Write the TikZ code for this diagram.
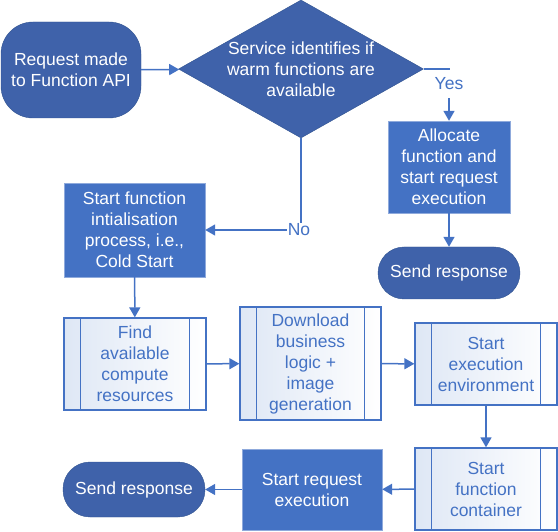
\documentclass[tikz,border=0pt]{standalone}
\usepackage{fontspec}
\setmainfont{Liberation Sans}
\usetikzlibrary{arrows.meta, positioning, shapes.geometric}

\definecolor{flowblue}{RGB}{68,114,196}
\definecolor{flowdark}{RGB}{63,98,170}
\definecolor{flowedge}{RGB}{47,82,143}
\definecolor{flowlight}{RGB}{143,170,220}
\definecolor{flowpale}{RGB}{222,231,245}

\begin{document}
\begin{tikzpicture} [x=1pt, y=-1pt,
		% define styles
		terminalstyle/.style={
			% The shape:
			rectangle,
			rounded corners=26pt,
			% The size:
			minimum width=142pt,
			minimum height=52pt,
			inner sep=0pt,
			% The border and filling:
			draw=flowedge,
			fill=flowdark,
			% Font
			text=white,
			align=center,
			font=\fontsize{17.5}{21}\selectfont
		},
		decisionstyle/.style={
			% The shape:
			diamond,
			% The size:
			minimum width=245pt,
			minimum height=138pt,
			inner sep=-40pt,
			% The border and filling:
			draw=flowedge,
			fill=flowdark,
			% Font
			text=white,
			align=center,
			font=\fontsize{17.5}{21}\selectfont
		},
		actionstyle/.style={
			% The shape:
			rectangle,
			inner sep=0pt,
			% The border and filling:
			draw=flowlight,
			fill=flowblue,
			% Font
			text=white,
			align=center,
			font=\fontsize{17.5}{21}\selectfont
		},
		processstyle/.style={
			% The shape:
			rectangle,
			minimum width=142pt,
			inner sep=0pt,
			% The border:
			draw=flowblue,
			line width=1.3pt,
			% The filling:
			left color=flowpale, % pale blue on the left...
			right color=white, % and white on the right
			% Font
			text=flowblue,
			align=center,
			font=\fontsize{17.5}{21}\selectfont
		},
		procline/.style={
			flowblue,
			line width=1.3pt
		},
		arrow/.style={
			-{Triangle[length=10pt, width=11pt]},
			% Thickness
			line width=1.5pt,
			% Color
			flowblue
		},
		branchlabel/.style={
			fill=white,
			inner sep=1pt,
			text=flowblue,
			font=\fontsize{17.5}{21}\selectfont
		}]
		% end of style definition

		\useasboundingbox (0,0) rectangle (558,532);

		% draw nodes
		\node (iRequest) [terminalstyle, rounded corners=32pt, minimum width=140pt, minimum height=96pt] at (71,70) {Request made\\to Function API};
		\node (iDecision) [decisionstyle] at (301,69) {Service identifies if\\warm functions are\\available};

		\node (iAllocate) [actionstyle, minimum width=122pt, minimum height=92pt] at (449,167) {Allocate\\function and\\start request\\execution};
		\node (iSendTop) [terminalstyle] at (449,273) {Send response};

		\node (iColdStart) [actionstyle, minimum width=141pt, minimum height=94pt] at (134.5,230) {Start function\\intialisation\\process, i.e.,\\Cold Start};

		\node (iFind) [processstyle, minimum height=92pt] at (135,364) {Find\\available\\compute\\resources};
		\node (iDownload) [processstyle, minimum width=141pt, minimum height=113pt] at (310.5,363.5) {Download\\business\\logic +\\image\\generation};
		\node (iExecEnv) [processstyle, minimum height=82pt] at (486,364) {Start\\execution\\environment};
		\node (iContainer) [processstyle, minimum height=82pt] at (486,489) {Start\\function\\container};

		\node (iStartReq) [actionstyle, minimum width=140pt, minimum height=81pt] at (312,489.5) {Start request\\execution};
		\node (iSendBottom) [terminalstyle, minimum height=55pt, rounded corners=27pt] at (134,489.5) {Send response};

		% side bars of the process boxes
		\foreach \n in {iFind, iDownload, iExecEnv, iContainer} {
			\draw [procline] ([xshift=17pt]\n.north west) -- ([xshift=17pt]\n.south west);
			\draw [procline] ([xshift=-17pt]\n.north east) -- ([xshift=-17pt]\n.south east);
		}

		% connect nodes
		\draw [arrow] (iRequest) -- (iDecision);
		\draw [arrow] (iDecision.east) -| node [branchlabel, pos=0.64, minimum height=28pt] {Yes} (iAllocate.north);
		\draw [arrow] (iAllocate) -- (iSendTop);
		\draw [arrow] (iDecision.south) |- node [branchlabel, pos=0.5, xshift=-2pt] {No} (iColdStart.east);
		\draw [arrow] (iColdStart) -- (iFind);
		\draw [arrow] (iFind) -- (iDownload);
		\draw [arrow] (iDownload) -- (iExecEnv);
		\draw [arrow] (iExecEnv) -- (iContainer);
		\draw [arrow] (iContainer) -- (iStartReq);
		\draw [arrow] (iStartReq) -- (iSendBottom);
	\end{tikzpicture}
\end{document}
